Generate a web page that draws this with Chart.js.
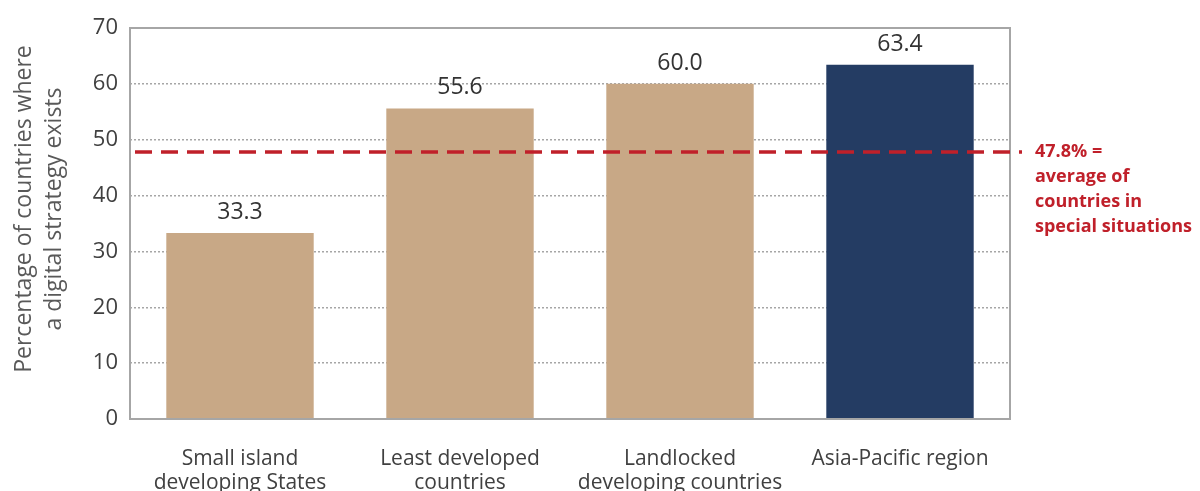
<!DOCTYPE html>
<html>
<head>
<meta charset="utf-8">
<script src="https://cdn.jsdelivr.net/npm/chart.js@4/dist/chart.umd.min.js"></script>
<style>
  html, body { margin: 0; padding: 0; background: #ffffff; }
  #wrap { width: 1200px; height: 491px; position: relative; }
</style>
</head>
<body>
<div id="wrap"><canvas id="chart" width="1200" height="491"></canvas></div>
<script>
// Country groups along the x axis (two-line labels)
const categories = [
  ['Small island', 'developing States'],
  ['Least developed', 'countries'],
  ['Landlocked', 'developing countries'],
  ['Asia-Pacific region']
];
// Share of countries with a digital strategy (%)
const shareValues = [33.3, 55.6, 60.0, 63.4];
const barColors = ['#C8A886', '#C8A886', '#C8A886', '#243C63'];
// Average for countries in special situations
const averageValue = 47.8;
const averageLabel = ['47.8% =', 'average of', 'countries in', 'special situations'];
const yTitle = ['Percentage of countries where', 'a digital strategy exists'];
const yMin = 0, yMax = 70, yStep = 10;

const FONT = "'Open Sans', 'DejaVu Sans', sans-serif";

// Frame around the plot, axis title, value labels, and the dashed average line with its note
const decorations = {
  id: 'decorations',
  afterDatasetsDraw(chart) {
    const { ctx, chartArea: a, scales } = chart;
    const y = scales.y;
    const meta = chart.getDatasetMeta(0);

    // plot frame
    ctx.save();
    ctx.strokeStyle = '#A6A6A6';
    ctx.lineWidth = 2;
    ctx.strokeRect(a.left, a.top, a.right - a.left, a.bottom - a.top);
    ctx.restore();

    // rotated y-axis title, two lines
    ctx.save();
    ctx.font = '23px ' + FONT;
    ctx.fillStyle = '#595959';
    ctx.textAlign = 'center';
    ctx.textBaseline = 'middle';
    ctx.translate(24, 209);
    ctx.rotate(-Math.PI / 2);
    yTitle.forEach((line, i) => ctx.fillText(line, 0, i * 30));
    ctx.restore();

    // value labels above bars
    ctx.save();
    ctx.font = '23px ' + FONT;
    ctx.fillStyle = '#333333';
    ctx.textAlign = 'center';
    ctx.textBaseline = 'bottom';
    meta.data.forEach((bar, i) => {
      ctx.fillText(shareValues[i].toFixed(1), bar.x, bar.y - 9);
    });
    ctx.restore();

    // dashed average line
    const yAvg = y.getPixelForValue(averageValue);
    ctx.save();
    ctx.strokeStyle = '#C0202A';
    ctx.lineWidth = 3.5;
    ctx.setLineDash([17, 9]);
    ctx.beginPath();
    ctx.moveTo(a.left + 5, yAvg);
    ctx.lineTo(a.right + 12, yAvg);
    ctx.stroke();
    ctx.restore();

    // note beside the line
    ctx.save();
    ctx.font = 'bold 18px ' + FONT;
    ctx.fillStyle = '#C0202A';
    ctx.textAlign = 'left';
    ctx.textBaseline = 'middle';
    averageLabel.forEach((line, i) => {
      ctx.fillText(line, a.right + 25, yAvg + i * 25);
    });
    ctx.restore();
  }
};

new Chart(document.getElementById('chart'), {
  type: 'bar',
  data: {
    labels: categories,
    datasets: [{
      data: shareValues,
      backgroundColor: barColors,
      borderWidth: 0,
      categoryPercentage: 1.0,
      barPercentage: 0.67
    }]
  },
  options: {
    responsive: false,
    animation: false,
    devicePixelRatio: 1,
    layout: { padding: { top: 28, right: 190, bottom: 0, left: 0 } },
    plugins: {
      legend: { display: false },
      tooltip: { enabled: false }
    },
    scales: {
      x: {
        grid: { display: false, drawTicks: false },
        border: { display: false },
        ticks: {
          font: { family: FONT, size: 21, lineHeight: 1.15 },
          color: '#404040',
          padding: 28,
          maxRotation: 0,
          autoSkip: false
        },
        afterFit(scale) { scale.height = 72; }
      },
      y: {
        min: yMin,
        max: yMax,
        grid: {
          color: '#A6A6A6',
          lineWidth: 1.5,
          drawTicks: false
        },
        border: { display: false, dash: [2, 2] },
        ticks: {
          stepSize: yStep,
          font: { family: FONT, size: 22 },
          color: '#404040',
          padding: 12
        },
        title: { display: false },
        afterFit(scale) { scale.width = 130; }
      }
    }
  },
  plugins: [decorations]
});
</script>
</body>
</html>
